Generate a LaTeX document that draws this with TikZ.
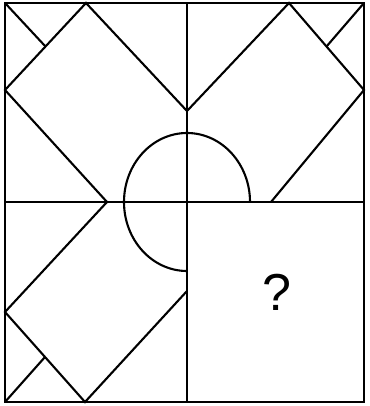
\documentclass[tikz,border=0pt]{standalone}
\usepackage{fontspec}
\setmainfont{Liberation Sans}
\usetikzlibrary{calc}
\begin{document}
\begin{tikzpicture}[x=1pt,y=-1pt,
  thinline/.style={line width=2.1pt,line join=miter,black},
  frame/.style={line width=2.8pt,black}]
\useasboundingbox (0,0) rectangle (369,406);
% key points
\coordinate (TL) at (5,3);
\coordinate (TR) at (364,3);
\coordinate (BL) at (5,402);
\coordinate (BR) at (364,402);
% mid lines
\draw[thinline] (187,3) -- (187,402);
\draw[thinline] (5,202) -- (364,202);
% top-left figure
\coordinate (a1) at (86,3);
\coordinate (a2) at (5,90);
\coordinate (a3) at (107,202);
\coordinate (a4) at (187,111);
\draw[thinline] (a4) -- (a1) -- (a2) -- (a3);
\draw[thinline] (TL) -- ($(a1)!0.5!(a2)$);
% top-right figure
\coordinate (b1) at (289,3);
\coordinate (b2) at (364,90);
\coordinate (b3) at (271,202);
\draw[thinline] (a4) -- (b1) -- (b2) -- (b3);
\draw[thinline] (TR) -- ($(b1)!0.5!(b2)$);
% bottom-left figure
\coordinate (c2) at (5,312);
\coordinate (c3) at (85,402);
\coordinate (c4) at (187,291);
\draw[thinline] (a3) -- (c2) -- (c3) -- (c4);
\draw[thinline] (BL) -- ($(c2)!0.5!(c3)$);
% three-quarter arc
\draw[thinline] (250,202) arc[start angle=0,end angle=-270,x radius=63,y radius=69];
% question mark
\node[font=\fontsize{52}{52}\selectfont] (q) at (277,292) {?};
% frame
\draw[frame] (TL) rectangle (BR);
\end{tikzpicture}
\end{document}
